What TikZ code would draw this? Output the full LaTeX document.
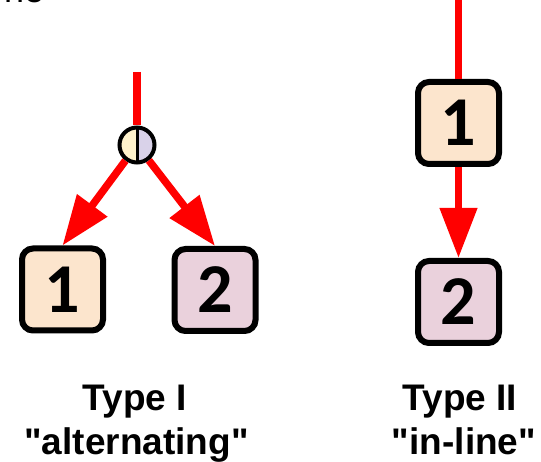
\documentclass[tikz,border=0pt]{standalone}
\usepackage{fontspec}
\setmainfont{Liberation Sans}
% caption face without TeX quote ligatures, so " stays straight
\newfontfamily\capfont{Liberation Sans}
\newfontfamily\digitfont{Carlito}
\usetikzlibrary{arrows.meta}

\definecolor{boxone}{HTML}{FCE5CD}
\definecolor{boxtwo}{HTML}{EAD1DC}
\definecolor{halfleft}{HTML}{FFF2CC}
\definecolor{halfright}{HTML}{D9D2E9}
\definecolor{flow}{HTML}{FF0000}

\tikzset{
  stepbox/.style={draw=black, line width=6pt, rounded corners=11pt,
    minimum width=81pt, minimum height=82pt, inner sep=0pt,
    font=\digitfont\bfseries\fontsize{70}{70}\selectfont},
  firstbox/.style={stepbox, fill=boxone},
  secondbox/.style={stepbox, fill=boxtwo},
  splitter/.style={circle, draw=black, line width=4pt, minimum size=35pt,
    inner sep=0pt,
    path picture={
      \fill[halfleft] (path picture bounding box.south west)
        rectangle (path picture bounding box.north);
      \fill[halfright] (path picture bounding box.south)
        rectangle (path picture bounding box.north east);
      \draw[line width=3pt] (path picture bounding box.south)
        -- (path picture bounding box.north);
    }},
  flowline/.style={draw=flow, line width=7.5pt},
  flowarrow/.style={flowline, -{Triangle[length=50pt,width=36pt]}},
  caption/.style={anchor=base, inner sep=0pt,
    font=\capfont\bfseries\fontsize{37}{46}\selectfont},
}

\begin{document}
\begin{tikzpicture}[x=1pt, y=-1pt]
  \useasboundingbox (0,0) rectangle (541,462);

  % word ending cut by the top edge
  \node[anchor=base west, inner sep=0pt, font=\fontsize{36}{36}\selectfont]
    (cut) at (4,3) {ne};

  % Type I: one input split between two alternatives
  \coordinate (inA) at (137,72);
  \node[splitter] (split) at (137,145) {};
  \node[firstbox]  (A1) at (62.5,289.5) {1};
  \node[secondbox] (A2) at (215,290) {2};

  \draw[flowline]  (inA) -- (split);
  \draw[flowarrow] (split) -- (A1.north);
  \draw[flowarrow] (split) -- (A2.north);

  % Type II: the two steps one after the other
  \coordinate (inB) at (458.5,-6);
  \node[firstbox]  (B1) at (458.5,123) {1};
  \node[secondbox] (B2) at (458.5,302) {2};

  \draw[flowline]  (inB) -- (B1.north);
  \draw[flowarrow] (B1.south) -- (B2.north);

  % captions
  \node[caption] (capA)  at (135,410) {Type I};
  \node[caption] (capA2) at (136.5,454) {"alternating"};
  \node[caption] (capB)  at (460,410) {Type II};
  \node[caption] (capB2) at (464,454) {"in-line"};
\end{tikzpicture}
\end{document}
